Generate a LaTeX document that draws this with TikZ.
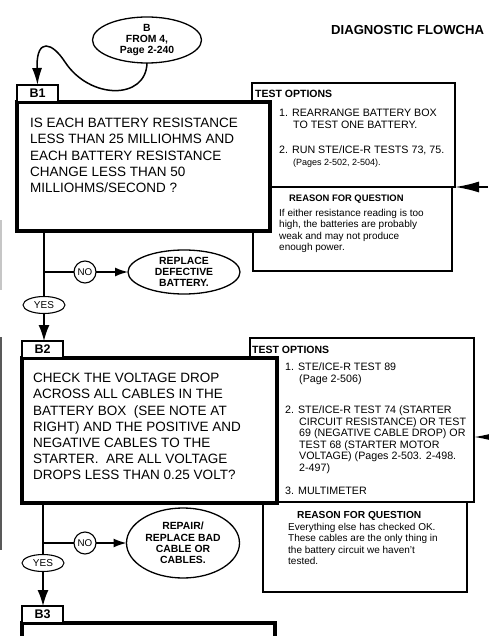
\documentclass[tikz,border=0pt]{standalone}
\usepackage{fontspec}
\setmainfont{Liberation Sans}
\usetikzlibrary{shapes.geometric, arrows.meta, positioning, calc}

\newcommand{\qsize}{\fontsize{13.5}{16.2}\selectfont}
\newcommand{\optsize}{\fontsize{10.7}{12}\selectfont}
\newcommand{\optbig}{\fontsize{10.7}{11.5}\selectfont}
\newcommand{\pgsize}{\fontsize{9}{12}\selectfont}
\newcommand{\bodysize}{\fontsize{10}{11.5}\selectfont}
\newcommand{\headsize}{\fontsize{10.5}{12}\selectfont\bfseries}
\newcommand{\ovsize}{\fontsize{10.4}{11.2}\selectfont\bfseries}
\newcommand{\hang}{\hspace*{14pt}}

\begin{document}
\begin{tikzpicture}[x=1pt, y=-1pt,
  qbox/.style={draw, rectangle, line width=4pt, fill=white, inner sep=0pt, outer sep=0pt, anchor=north west},
  tabbox/.style={draw, rectangle, line width=1.2pt, fill=white, minimum width=41pt, minimum height=17pt, inner sep=0pt, outer sep=0pt, anchor=south west, font=\fontsize{12.5}{14}\selectfont\bfseries},
  optbox/.style={draw, rectangle, line width=1.1pt, inner sep=0pt, outer sep=0pt, anchor=north west},
  txt/.style={anchor=north west, inner sep=0pt, align=left},
  oval/.style={draw, ellipse, line width=1.3pt, inner sep=0pt, outer sep=0pt, align=center, font=\ovsize},
  answer/.style={draw, ellipse, line width=1.1pt, inner sep=0pt, outer sep=0pt, minimum width=42pt, minimum height=17pt, font=\fontsize{10}{11}\selectfont},
  nobub/.style={draw, circle, line width=1.1pt, inner sep=0pt, outer sep=0pt, minimum size=22pt, font=\fontsize{9.8}{11}\selectfont},
  line/.style={line width=1.5pt},
  down/.style={line, -{Latex[length=16pt, width=11pt]}},
  side/.style={line, -{Latex[length=13pt, width=9pt]}},
  inarrow/.style={line width=1.8pt, -{Latex[length=24pt, width=11pt]}}]

  \useasboundingbox (0,0) rectangle (488,636);

  % scan edge
  \draw[gray!45, line width=2pt] (1,220) -- (1,290);
  \draw[gray!70!black, line width=1.5pt] (1,337) -- (1,550);

  \node[anchor=base west, inner sep=0pt, font=\fontsize{13.1}{16}\selectfont\bfseries] (title) at (331,35) {DIAGNOSTIC FLOWCHA};

  \node[oval, minimum width=109pt, minimum height=46pt] (from) at (147,40) {B\\FROM 4,\\Page 2-240};

  % test options B1
  \node[optbox, minimum width=203pt, minimum height=104pt] (topt1) at (252,83) {};
  \node[optbox, minimum width=199pt, minimum height=84pt] (reason1) at (253,187) {};
  \node[txt, font=\headsize] at (255,90) {TEST OPTIONS};
  \node[txt, font=\optsize] at (279,109) {1. REARRANGE BATTERY BOX\\\hang TO TEST ONE BATTERY.};
  \node[txt, font=\optsize] at (279,146) {2. RUN STE/ICE-R TESTS 73, 75.\\\hang{\pgsize (Pages 2-502, 2-504).}};
  \node[txt, font=\fontsize{9.4}{10}\selectfont\bfseries] at (289,195) {REASON FOR QUESTION};
  \node[txt, font=\bodysize] at (279,209) {If either resistance reading is too\\high, the batteries are probably\\weak and may not produce\\enough power.};
  \coordinate (in1) at (488,187);
  \draw[inarrow] (in1) -- (in1 -| topt1.east);

  % test options B2
  \node[optbox, minimum width=224pt, minimum height=164pt] (topt2) at (250,338) {};
  \node[optbox, minimum width=204pt, minimum height=90pt] (reason2) at (263,502) {};
  \node[txt, font=\headsize] at (252,346) {TEST OPTIONS};
  \node[txt, font=\optbig] at (285,363) {1. STE/ICE-R TEST 89\\\hang(Page 2-506)};
  \node[txt, font=\optbig] at (285,406) {2. STE/ICE-R TEST 74 (STARTER\\\hang CIRCUIT RESISTANCE) OR TEST\\\hang 69 (NEGATIVE CABLE DROP) OR\\\hang TEST 68 (STARTER MOTOR\\\hang VOLTAGE) (Pages 2-503. 2-498.\\\hang 2-497)};
  \node[txt, font=\optbig] at (285,487) {3. MULTIMETER};
  \node[txt, font=\fontsize{10.2}{11}\selectfont\bfseries] at (297,511) {REASON FOR QUESTION};
  \node[txt, font=\bodysize] at (288,523) {Everything else has checked OK.\\These cables are the only thing in\\the battery circuit we haven't\\tested.};
  \coordinate (in2) at (488,437);
  \draw[inarrow] (in2) -- (in2 -| topt2.east);

  % B1
  \node[qbox, minimum width=253pt, minimum height=129pt] (b1box) at (17,102) {};
  \node[tabbox] (b1tab) at (b1box.north west) {B1};
  \node[txt, font=\qsize] at (30,118) {IS EACH BATTERY RESISTANCE\\LESS THAN 25 MILLIOHMS AND\\EACH BATTERY RESISTANCE\\CHANGE LESS THAN 50\\MILLIOHMS/SECOND ?};
  \draw[line, -{Latex[length=17pt, width=10pt]}] (from.south) .. controls (146,100) and (90,100) .. (65,62) .. controls (52,42) and (37,38) .. (37,66) -- (b1tab.north);

  \node[answer] (yes1) at (44,305) {YES};
  \node[nobub] (no1) at (85,272) {NO};
  \node[oval, minimum width=112pt, minimum height=44pt] (repl1) at (184,272) {REPLACE\\DEFECTIVE\\BATTERY.};
  \draw[line] (b1box.south -| yes1.north) -- (yes1.north);
  \draw[line] (no1.west -| yes1.north) -- (no1.west);
  \draw[side] (no1.east) -- (repl1.west);

  % B2
  \node[qbox, minimum width=255pt, minimum height=145pt] (b2box) at (22,358) {};
  \node[tabbox] (b2tab) at (b2box.north west) {B2};
  \node[txt, font=\qsize] at (33,373) {CHECK THE VOLTAGE DROP\\ACROSS ALL CABLES IN THE\\BATTERY BOX\ \ (SEE NOTE AT\\RIGHT) AND THE POSITIVE AND\\NEGATIVE CABLES TO THE\\STARTER.\ \ ARE ALL VOLTAGE\\DROPS LESS THAN 0.25 VOLT?};
  \draw[down] (yes1.south) -- (yes1.south |- b2tab.north);

  \node[answer] (yes2) at (43,563) {YES};
  \node[nobub] (no2) at (85,543) {NO};
  \node[oval, minimum width=113pt, minimum height=70pt] (repair2) at (183,543) {REPAIR/\\REPLACE BAD\\CABLE OR\\CABLES.};
  \draw[line] (b2box.south -| yes2.north) -- (yes2.north);
  \draw[line] (no2.west -| yes2.north) -- (no2.west);
  \draw[side] (no2.east) -- (repair2.west);

  % B3
  \node[qbox, minimum width=253pt, minimum height=60pt] (b3box) at (22,623) {};
  \node[tabbox] (b3tab) at (b3box.north west) {B3};
  \draw[down] (yes2.south) -- (yes2.south |- b3tab.north);
\end{tikzpicture}
\end{document}
